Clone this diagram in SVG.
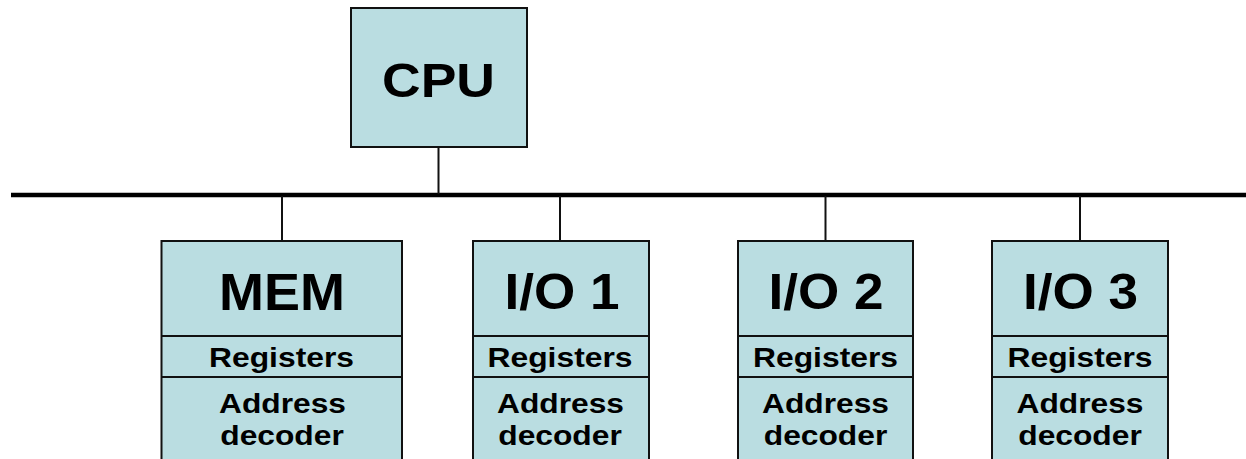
<svg xmlns="http://www.w3.org/2000/svg" width="1246" height="459" viewBox="0 0 1246 459">
<style>
.box{fill:#BADDE1;stroke:#111;stroke-width:2}
.div{stroke:#111;stroke-width:2.2}
.wire{stroke:#111;stroke-width:2;fill:none}
.bus{stroke:#000;stroke-width:4.6}
text{font-family:"Liberation Sans",Arial,sans-serif;font-weight:bold;fill:#000;text-anchor:middle}
.cpu{font-size:48.5px}
.mem{font-size:52px}
.io{font-size:50px}
.small{font-size:28.5px}
</style>
<rect width="1246" height="459" fill="#fff"/>
<g id="connectors">
<line class="bus" x1="11" y1="195" x2="1246" y2="195"/>
<line class="wire" x1="438.5" y1="147" x2="438.5" y2="194"/>
<line class="wire" x1="282" y1="196" x2="282" y2="241"/>
<line class="wire" x1="560" y1="196" x2="560" y2="241"/>
<line class="wire" x1="825.5" y1="196" x2="825.5" y2="241"/>
<line class="wire" x1="1080" y1="196" x2="1080" y2="241"/>
</g>
<g id="cpu">
<rect class="box" x="351" y="8" width="176" height="139"/>
<text class="cpu" x="438.5" y="97" textLength="113" lengthAdjust="spacingAndGlyphs">CPU</text>
</g>
<g id="mem">
<rect class="box" x="161.5" y="241" width="240.5" height="230"/>
<line class="div" x1="161.5" y1="336" x2="402" y2="336"/>
<line class="div" x1="161.5" y1="377" x2="402" y2="377"/>
<text class="mem" x="282" y="310" textLength="126" lengthAdjust="spacingAndGlyphs">MEM</text>
<text class="small" x="281.5" y="367" textLength="145" lengthAdjust="spacingAndGlyphs">Registers</text>
<text class="small" x="282.5" y="413" textLength="127" lengthAdjust="spacingAndGlyphs">Address</text>
<text class="small" x="282" y="445" textLength="123.5" lengthAdjust="spacingAndGlyphs">decoder</text>
</g>
<g id="io1">
<rect class="box" x="473" y="241" width="176" height="230"/>
<line class="div" x1="473" y1="336" x2="649" y2="336"/>
<line class="div" x1="473" y1="377" x2="649" y2="377"/>
<text class="io" x="562" y="309" textLength="115" lengthAdjust="spacingAndGlyphs">I/O 1</text>
<text class="small" x="560" y="367" textLength="145" lengthAdjust="spacingAndGlyphs">Registers</text>
<text class="small" x="560.5" y="413" textLength="127" lengthAdjust="spacingAndGlyphs">Address</text>
<text class="small" x="560" y="445" textLength="123.5" lengthAdjust="spacingAndGlyphs">decoder</text>
</g>
<g id="io2">
<rect class="box" x="738" y="241" width="175" height="230"/>
<line class="div" x1="738" y1="336" x2="913" y2="336"/>
<line class="div" x1="738" y1="377" x2="913" y2="377"/>
<text class="io" x="826" y="309" textLength="115" lengthAdjust="spacingAndGlyphs">I/O 2</text>
<text class="small" x="825.5" y="367" textLength="145" lengthAdjust="spacingAndGlyphs">Registers</text>
<text class="small" x="825.5" y="413" textLength="127" lengthAdjust="spacingAndGlyphs">Address</text>
<text class="small" x="825.5" y="445" textLength="123.5" lengthAdjust="spacingAndGlyphs">decoder</text>
</g>
<g id="io3">
<rect class="box" x="992" y="241" width="176" height="230"/>
<line class="div" x1="992" y1="336" x2="1168" y2="336"/>
<line class="div" x1="992" y1="377" x2="1168" y2="377"/>
<text class="io" x="1080.5" y="309" textLength="115" lengthAdjust="spacingAndGlyphs">I/O 3</text>
<text class="small" x="1080" y="367" textLength="145" lengthAdjust="spacingAndGlyphs">Registers</text>
<text class="small" x="1080" y="413" textLength="127" lengthAdjust="spacingAndGlyphs">Address</text>
<text class="small" x="1080" y="445" textLength="123.5" lengthAdjust="spacingAndGlyphs">decoder</text>
</g>
</svg>
